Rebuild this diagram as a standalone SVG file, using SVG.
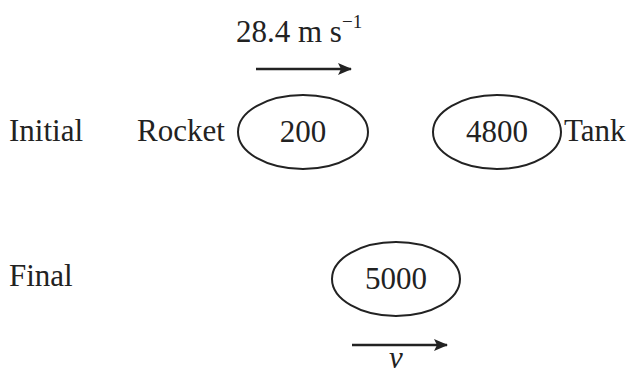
<svg xmlns="http://www.w3.org/2000/svg" width="635" height="376" viewBox="0 0 635 376">
<style>
text{font-family:"Liberation Serif","Times New Roman",serif;font-size:31px;fill:#222}
.n{fill:none;stroke:#222;stroke-width:2}
.a{stroke:#222;stroke-width:2.5;fill:none}
</style>
<defs>
<marker id="ah" markerWidth="14" markerHeight="12" refX="13" refY="6" orient="auto" markerUnits="userSpaceOnUse" viewBox="0 0 14 12">
<path d="M0,0 L14,6 L0,12 L3,6 Z" fill="#222"/>
</marker>
</defs>
<rect width="635" height="376" fill="#fff"/>
<text x="9" y="141">Initial</text>
<text x="9" y="286">Final</text>
<g id="rocket">
<text x="137" y="141">Rocket</text>
<ellipse class="n" cx="303" cy="132" rx="65" ry="37"/>
<text x="303" y="142" text-anchor="middle">200</text>
</g>
<g id="tank">
<ellipse class="n" cx="497" cy="132" rx="64" ry="37"/>
<text x="497" y="142" text-anchor="middle">4800</text>
<text x="564" y="141">Tank</text>
</g>
<g id="combined">
<ellipse class="n" cx="396" cy="279" rx="64" ry="37"/>
<text x="396" y="289" text-anchor="middle">5000</text>
</g>
<g id="connectors">
<line class="a" x1="256" y1="69" x2="351" y2="69" marker-end="url(#ah)"/>
<line class="a" x1="352" y1="345" x2="447" y2="345" marker-end="url(#ah)"/>
</g>
<text x="236" y="42">28.4 m s<tspan font-size="19" dy="-14">−1</tspan></text>
<text x="389" y="368" font-style="italic">v</text>
</svg>
